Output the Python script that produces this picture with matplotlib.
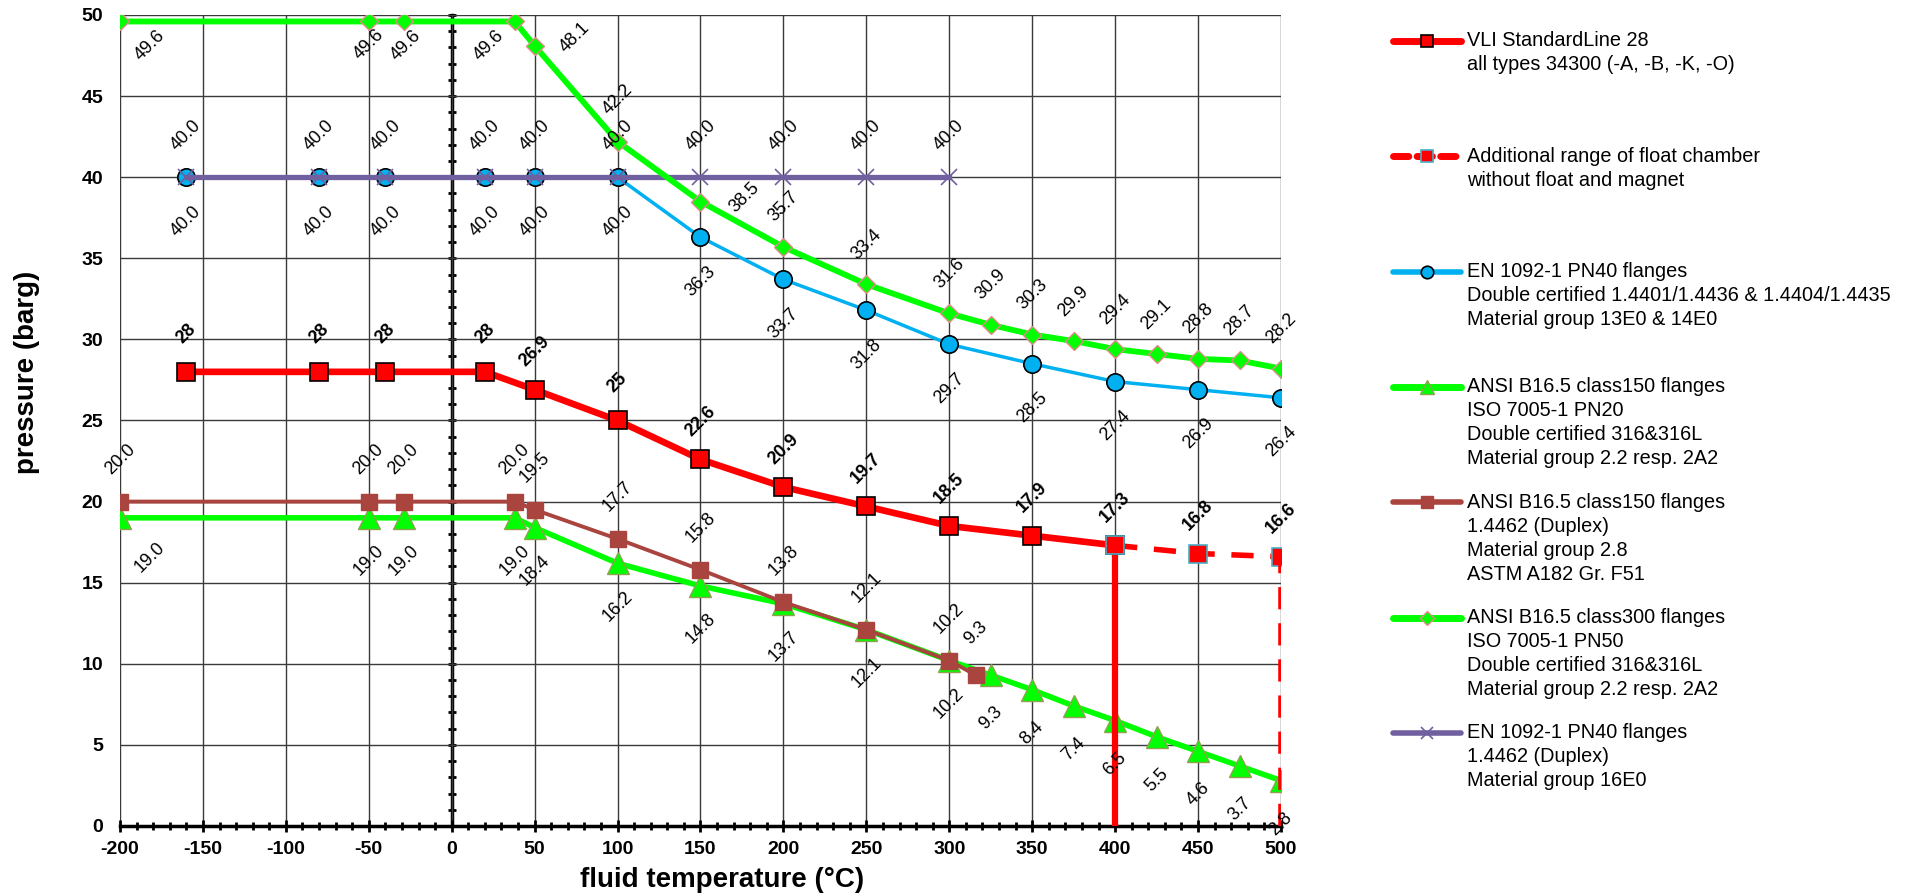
import matplotlib
matplotlib.use("Agg")
import matplotlib.pyplot as plt
from matplotlib.ticker import MultipleLocator

plt.rcParams["font.family"] = ["Liberation Sans", "DejaVu Sans"]
plt.rcParams["axes.unicode_minus"] = False

# ---------------------------
# DATA
# ---------------------------
vli_t = [-160, -80, -40, 20, 50, 100, 150, 200, 250, 300, 350, 400]
vli_p = [28, 28, 28, 28, 26.9, 25, 22.6, 20.9, 19.7, 18.5, 17.9, 17.3]
vli_lbl = ["28", "28", "28", "28", "26.9", "25", "22.6", "20.9", "19.7", "18.5", "17.9", "17.3"]

add_t = [400, 450, 500]
add_p = [17.3, 16.8, 16.6]
add_lbl = ["", "16.8", "16.6"]

en40_t = [-160, -80, -40, 20, 50, 100, 150, 200, 250, 300, 350, 400, 450, 500]
en40_p = [40, 40, 40, 40, 40, 40, 36.3, 33.7, 31.8, 29.7, 28.5, 27.4, 26.9, 26.4]

c150_t = [-200, -50, -29, 38, 50, 100, 150, 200, 250, 300, 325, 350, 375, 400, 425, 450, 475, 500]
c150_p = [19.0, 19.0, 19.0, 19.0, 18.4, 16.2, 14.8, 13.7, 12.1, 10.2, 9.3, 8.4, 7.4, 6.5, 5.5, 4.6, 3.7, 2.8]

dup150_t = [-200, -50, -29, 38, 50, 100, 150, 200, 250, 300, 316]
dup150_p = [20.0, 20.0, 20.0, 20.0, 19.5, 17.7, 15.8, 13.8, 12.1, 10.2, 9.3]

c300_t = [-200, -50, -29, 38, 50, 100, 150, 200, 250, 300, 325, 350, 375, 400, 425, 450, 475, 500]
c300_p = [49.6, 49.6, 49.6, 49.6, 48.1, 42.2, 38.5, 35.7, 33.4, 31.6, 30.9, 30.3, 29.9, 29.4, 29.1, 28.8, 28.7, 28.2]

dupen_t = [-160, -80, -40, 20, 50, 100, 150, 200, 250, 300]
dupen_p = [40, 40, 40, 40, 40, 40, 40, 40, 40, 40]

legend_labels = [
    ["VLI StandardLine 28", "all types 34300 (-A, -B, -K, -O)"],
    ["Additional range of float chamber", "without float and magnet"],
    ["EN 1092-1 PN40 flanges", "Double certified 1.4401/1.4436 & 1.4404/1.4435",
     "Material group 13E0 & 14E0"],
    ["ANSI B16.5 class150 flanges", "ISO 7005-1 PN20", "Double certified 316&316L",
     "Material group 2.2 resp. 2A2"],
    ["ANSI B16.5 class150 flanges", "1.4462 (Duplex)", "Material group 2.8",
     "ASTM A182 Gr. F51"],
    ["ANSI B16.5 class300 flanges", "ISO 7005-1 PN50", "Double certified 316&316L",
     "Material group 2.2 resp. 2A2"],
    ["EN 1092-1 PN40 flanges", "1.4462 (Duplex)", "Material group 16E0"],
]

RED = "#FF0000"
GREEN = "#00FF00"
BLUE = "#00B0F0"
BROWN = "#A9443F"
PURPLE = "#7060A0"

# ---------------------------
# FIGURE
# ---------------------------
fig = plt.figure(figsize=(19.33, 8.94), dpi=100)
ax = fig.add_axes([120 / 1933, 1 - 826 / 894, 1161 / 1933, 811 / 894])
ax.set_xlim(-200, 500)
ax.set_ylim(0, 50)

ax.xaxis.set_major_locator(MultipleLocator(50))
ax.xaxis.set_minor_locator(MultipleLocator(10))
ax.yaxis.set_major_locator(MultipleLocator(5))
ax.grid(True, which="major", color="#3a3a3a", lw=1.0, zorder=0)
ax.set_axisbelow(True)

for s in ["top", "right", "left"]:
    ax.spines[s].set_visible(False)
ax.spines["bottom"].set_linewidth(2.5)
ax.tick_params(axis="x", which="major", direction="inout", length=8, width=2, pad=7,
               labelsize=14)
ax.tick_params(axis="x", which="minor", direction="inout", length=6, width=2)
ax.tick_params(axis="y", which="major", length=0, pad=12, labelsize=14)
for lab in ax.get_xticklabels() + ax.get_yticklabels():
    lab.set_fontweight("bold")

# vertical axis crossing at 0 degC
yax0 = ax.secondary_yaxis(200 / 700)
yax0.spines["left"].set_linewidth(2.5)
yax0.yaxis.set_major_locator(MultipleLocator(5))
yax0.yaxis.set_minor_locator(MultipleLocator(1))
yax0.tick_params(which="both", direction="inout", length=6, width=2, labelleft=False)

# ---------------------------
# SERIES
# ---------------------------
ax.plot(c150_t, c150_p, color=GREEN, lw=4, marker="^", ms=16, mfc=GREEN,
        mec="#8FA050", mew=1, zorder=3)
ax.plot(dup150_t, dup150_p, color=BROWN, lw=2.8, marker="s", ms=12, mfc=BROWN,
        mec=BROWN, zorder=4)
ax.plot(en40_t, en40_p, color=BLUE, lw=2.5, marker="o", ms=12.5, mfc=BLUE,
        mec="black", mew=1.2, zorder=4)
ax.plot(dupen_t, dupen_p, color=PURPLE, lw=3.8, marker="x", ms=11, mec=PURPLE,
        mew=1.2, zorder=5)
ax.plot(c300_t, c300_p, color=GREEN, lw=4.2, marker="D", ms=9, mfc=GREEN,
        mec="#E08A8A", mew=1, zorder=5)
ax.plot(add_t, add_p, color=RED, lw=4, ls=(0, (4, 3)), marker="s", ms=13, mfc=RED,
        mec="#4BACC6", mew=1.2, zorder=6)
ax.plot([add_t[-1], add_t[-1]], [0, add_p[-1]], color=RED, lw=4, ls=(0, (4, 2.5)), zorder=6)
ax.plot([vli_t[-1], vli_t[-1]], [0, vli_p[-1]], color=RED, lw=4.5, zorder=6)
ax.plot(vli_t, vli_p, color=RED, lw=4.8, marker="s", ms=13, mfc=RED,
        mec="black", mew=1.2, zorder=7)
# last VLI marker shown with the teal edge of the additional range
ax.plot(add_t[:1], add_p[:1], ls="none", marker="s", ms=13, mfc=RED, mec="#4BACC6",
        mew=1.2, zorder=8)

# ---------------------------
# DATA LABELS
# ---------------------------
def put_labels(xs, ys, texts, offsets, bold=False):
    for x, y, t, off in zip(xs, ys, texts, offsets):
        if not t:
            continue
        ax.annotate(t, (x, y), xytext=off, textcoords="offset pixels", rotation=45,
                    rotation_mode="anchor", ha="center", va="center", fontsize=13,
                    fontweight="bold" if bold else "normal", zorder=10,
                    annotation_clip=False)

put_labels(vli_t, vli_p, vli_lbl, [(0, 38)] * len(vli_t), bold=True)
put_labels(add_t, add_p, add_lbl, [(0, 38)] * len(add_t), bold=True)
put_labels(en40_t, en40_p, ["%.1f" % v for v in en40_p], [(0, -44)] * len(en40_t))
put_labels(dupen_t, dupen_p, ["%.1f" % v for v in dupen_p], [(0, 42)] * len(dupen_t))
put_labels(dup150_t, dup150_p, ["%.1f" % v for v in dup150_p], [(0, 42)] * len(dup150_t))
c150_off = [(30, -40)] + [(0, -43)] * (len(c150_t) - 1)
put_labels(c150_t, c150_p, ["%.1f" % v for v in c150_p], c150_off)
c300_off = [(30, -24), (0, -23), (2, -24), (-26, -24), (40, 8), (0, 42), (44, 4)] \
    + [(0, 40)] * (len(c300_t) - 7)
put_labels(c300_t, c300_p, ["%.1f" % v for v in c300_p], c300_off)

# ---------------------------
# AXIS TITLES
# ---------------------------
fig.text(722 / 1933, 1 - 880 / 894, "fluid temperature (°C)", ha="center", va="center",
         fontsize=20, fontweight="bold")
fig.text(27 / 1933, 1 - 372 / 894, "pressure (barg)", ha="center", va="center",
         rotation=90, fontsize=20, fontweight="bold")

# ---------------------------
# LEGEND (Excel style, handle on first line)
# ---------------------------
lax = fig.add_axes([0, 0, 1, 1], facecolor="none")
lax.set_xlim(0, 1933)
lax.set_ylim(894, 0)
lax.axis("off")

leg_styles = [
    dict(color=RED, lw=5, marker="s", ms=9, mfc=RED, mec="black", mew=1.2),
    dict(color=RED, lw=5, ls=(0, (2.2, 1.2)), marker="s", ms=9, mfc=RED, mec="#4BACC6", mew=1.2),
    dict(color=BLUE, lw=4, marker="o", ms=9, mfc=BLUE, mec="black", mew=1.2),
    dict(color=GREEN, lw=5, marker="^", ms=10, mfc=GREEN, mec="#8FA050", mew=1),
    dict(color=BROWN, lw=4, marker="s", ms=9, mfc=BROWN, mec=BROWN),
    dict(color=GREEN, lw=5, marker="D", ms=7, mfc=GREEN, mec="#E08A8A", mew=1),
    dict(color=PURPLE, lw=4, marker="x", ms=9, mec=PURPLE, mew=1.2),
]
for i, (lines, st) in enumerate(zip(legend_labels, leg_styles)):
    y0 = 41 + i * 115.3
    lax.plot([1393, 1461], [y0, y0], solid_capstyle="round", dash_capstyle="round",
             markevery=[], **st)
    lax.plot([1427], [y0], ls="none", **{k: v for k, v in st.items()
                                          if k not in ("lw", "ls", "color")})
    for j, line in enumerate(lines):
        lax.text(1467, y0 + j * 24, line, ha="left", va="center", fontsize=14.3)

fig.savefig("out.png", dpi=100)
